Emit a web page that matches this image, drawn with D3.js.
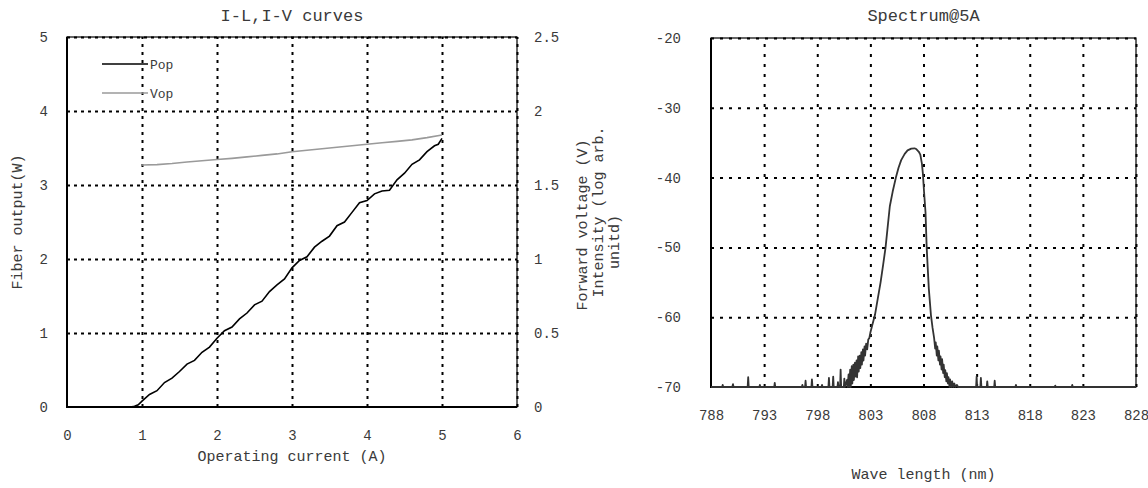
<!DOCTYPE html>
<html>
<head>
<meta charset="utf-8">
<script src="https://cdn.jsdelivr.net/npm/d3@7"></script>
<style>
  body { margin: 0; background: #fff; }
  svg text { font-family: "Liberation Mono", "Courier New", monospace; fill: #3a3a3a; }
  .grid line { stroke: #000; stroke-width: 2; }
  .domain { display: none; }
</style>
</head>
<body>
<div class="charts"></div>
<script>
"use strict"

const FONT = "Liberation Mono, Courier New, monospace";

// ---- I-L / I-V data ----
const popCurrent = [0, 0.5, 0.85, 0.9, 0.95, 1.0, 1.1, 1.2, 1.3, 1.4, 1.5, 1.6, 1.7, 1.8, 1.9, 2.0,
    2.1, 2.2, 2.3, 2.4, 2.5, 2.6, 2.7, 2.8, 2.9, 3.0, 3.1, 3.2, 3.3, 3.4, 3.5, 3.6, 3.7, 3.8, 3.9,
    4.0, 4.1, 4.2, 4.3, 4.4, 4.5, 4.6, 4.7, 4.8, 4.9, 4.95, 5.0];
const popPower = [0, 0, 0, 0.01, 0.03, 0.08, 0.17, 0.22, 0.33, 0.39, 0.48, 0.58, 0.63, 0.74, 0.81, 0.93,
    1.03, 1.08, 1.19, 1.27, 1.38, 1.43, 1.56, 1.65, 1.73, 1.88, 1.98, 2.03, 2.16, 2.24, 2.31, 2.45, 2.50,
    2.63, 2.76, 2.79, 2.88, 2.92, 2.93, 3.07, 3.16, 3.28, 3.34, 3.45, 3.53, 3.55, 3.63];

const vopCurrent = [1.0, 1.2, 1.4, 1.6, 1.8, 2.0, 2.2, 2.4, 2.6, 2.8, 3.0, 3.2, 3.4, 3.6, 3.8, 4.0,
    4.2, 4.4, 4.6, 4.8, 5.0];
const vopVoltage = [1.635, 1.638, 1.645, 1.655, 1.664, 1.672, 1.68, 1.69, 1.70, 1.71, 1.725, 1.735,
    1.745, 1.755, 1.765, 1.775, 1.785, 1.795, 1.805, 1.82, 1.838];

const ilTicksX = [0, 1, 2, 3, 4, 5, 6];
const ilTicksY = [0, 1, 2, 3, 4, 5];
const ivTicksY = [0, 0.5, 1, 1.5, 2, 2.5];
const ivTickLabels = ["0", "0.5", "1", "1.5", "2", "2.5"];

// ---- Spectrum data ----
const specNm = [788.0,
    789.05, 789.1, 789.15, 790.0, 790.07, 790.12, 791.45, 791.5, 791.55, 792.55, 792.6, 792.65,
    793.95, 794.0, 794.05, 796.55, 796.6, 796.65, 796.85, 796.9, 796.95, 797.45, 797.5, 797.55,
    798.4, 798.45, 798.5, 799.05, 799.1, 799.15, 799.45, 799.5, 799.55, 799.9, 799.95, 800.0,
    800.15, 800.2, 800.25, 800.5, 800.55, 800.6, 800.8, 800.85, 800.95, 801.0,
    801.1, 801.15, 801.25, 801.3, 801.4, 801.45, 801.55, 801.6, 801.7, 801.75, 801.85, 801.9,
    802.0, 802.05, 802.15, 802.2, 802.3, 802.35, 802.45, 802.5, 802.6, 802.7, 802.8, 802.9,
    803.0, 803.2, 803.43, 803.7, 803.96, 804.2, 804.43, 804.6, 804.83, 805.1, 805.4, 805.65,
    805.9, 806.23, 806.5, 806.85, 807.16, 807.3, 807.56, 807.7, 807.85, 807.94, 808.05, 808.19,
    808.3, 808.4, 808.5, 808.7, 808.85, 809.0, 809.1, 809.15, 809.25, 809.3, 809.4, 809.45,
    809.55, 809.6, 809.7, 809.75, 809.85, 809.9, 810.0, 810.05, 810.15, 810.2, 810.3, 810.35,
    810.45, 810.5, 810.6, 810.7, 810.8, 810.9, 811.0, 811.15, 811.25,
    812.95, 813.0, 813.05, 813.35, 813.4, 813.45, 813.95, 814.0, 814.05, 814.65, 814.7, 814.75,
    816.65, 816.7, 816.75, 820.35, 820.4, 820.45, 821.95, 822.0, 822.05, 828.0];
const specDb = [-70,
    -70, -69.7, -70, -70, -69.6, -70, -70, -68.6, -70, -70, -69.7, -70,
    -70, -69.4, -70, -70, -69.7, -70, -70, -69.1, -70, -70, -68.9, -70,
    -70, -69.7, -70, -70, -68.7, -70, -70, -68.5, -70, -70, -69.3, -70,
    -70, -67.5, -70, -70, -68.8, -70, -69, -70, -68.2, -70,
    -67.5, -70, -67.0, -69.5, -66.8, -69, -66.5, -68.5, -66.2, -68.6, -65.6, -67.8,
    -65.5, -67.3, -65.0, -66.8, -64.6, -66.2, -64.2, -65.5, -63.8, -64.6, -63.2, -63.0,
    -62.2, -61.0, -59.7, -57.3, -55.0, -52.5, -50.0, -47.5, -44.1, -42.0, -40.0, -38.6,
    -37.5, -36.6, -36.1, -35.85, -35.8, -35.9, -36.3, -36.7, -38.0, -39.4, -42.0, -45.0,
    -50.0, -53.0, -55.9, -59.7, -61.5, -63.0, -64.5, -63.6, -65.5, -64.2, -66.2, -64.8,
    -66.8, -65.6, -67.5, -66.0, -68.0, -66.8, -68.6, -67.6, -69.2, -68.0, -69.5, -68.6,
    -70, -68.9, -70, -69.2, -70, -69.5, -70, -69.7, -70,
    -70, -68.5, -70, -70, -68.7, -70, -70, -69.2, -70, -70, -69.1, -70,
    -70, -69.7, -70, -70, -69.8, -70, -70, -69.7, -70, -70];

const specTicksX = [788, 793, 798, 803, 808, 813, 818, 823, 828];
const specTicksY = [-70, -60, -50, -40, -30, -20];

const width = 1148,
    height = 488;

const svg = d3.select("div.charts").append("svg")
    .attr("width", width)
    .attr("height", height)
    .attr("font-family", FONT);

// ================= left chart: I-L, I-V =================
const il = {left: 67, right: 517, top: 37, bottom: 407};

const scaleI = d3.scaleLinear().domain([0, 6]).range([il.left, il.right]);
const scaleP = d3.scaleLinear().domain([0, 5]).range([il.bottom, il.top]);
const scaleV = d3.scaleLinear().domain([0, 2.5]).range([il.bottom, il.top]);

// grid (dotted)
svg.append("g")
    .attr("class", "grid")
    .attr("transform", "translate(0," + il.bottom + ")")
    .call(d3.axisBottom(scaleI).tickValues(ilTicksX.slice(1)).tickSize(il.top - il.bottom).tickFormat(""))
    .selectAll("line").attr("stroke-dasharray", "3,5");
svg.append("g")
    .attr("class", "grid")
    .attr("transform", "translate(" + il.left + ",0)")
    .call(d3.axisLeft(scaleP).tickValues(ilTicksY.slice(1)).tickSize(il.left - il.right).tickFormat(""))
    .selectAll("line").attr("stroke-dasharray", "3,4");

// frame
svg.append("rect")
    .attr("x", il.left).attr("y", il.top)
    .attr("width", il.right - il.left).attr("height", il.bottom - il.top)
    .attr("fill", "none").attr("stroke", "#000").attr("stroke-width", 1.2);
svg.append("path")
    .attr("d", "M" + il.left + "," + il.top + "V" + il.bottom + "H" + il.right)
    .attr("fill", "none").attr("stroke", "#000").attr("stroke-width", 2);

// axes labels
svg.append("g")
    .attr("class", "axis")
    .attr("transform", "translate(0," + il.bottom + ")")
    .call(d3.axisBottom(scaleI).tickValues(ilTicksX).tickSize(0).tickPadding(23).tickFormat(d3.format("d")));
svg.append("g")
    .attr("class", "axis")
    .attr("transform", "translate(" + il.left + ",0)")
    .call(d3.axisLeft(scaleP).tickValues(ilTicksY).tickSize(0).tickPadding(19).tickFormat(d3.format("d")));
svg.append("g")
    .attr("class", "axis")
    .attr("transform", "translate(" + il.right + ",0)")
    .call(d3.axisRight(scaleV).tickValues(ivTicksY).tickSize(0).tickPadding(17)
        .tickFormat((d, i) => ivTickLabels[i]));

// curves
const vopLine = d3.line()
    .x((d, i) => scaleI(vopCurrent[i]))
    .y(d => scaleV(d));
svg.append("path")
    .attr("d", vopLine(vopVoltage))
    .attr("fill", "none").attr("stroke", "#9a9a9a").attr("stroke-width", 1.6);

const popLine = d3.line()
    .x((d, i) => scaleI(popCurrent[i]))
    .y(d => scaleP(d));
svg.append("path")
    .attr("d", popLine(popPower))
    .attr("fill", "none").attr("stroke", "#000").attr("stroke-width", 1.6);

// legend
const legend = svg.append("g").attr("transform", "translate(102,64)");
legend.append("line").attr("x1", 0).attr("x2", 46).attr("stroke", "#000").attr("stroke-width", 1.6);
legend.append("text").attr("x", 48).attr("dy", "0.35em").attr("font-size", 13).text("Pop");
legend.append("line").attr("x1", 0).attr("x2", 46).attr("y1", 29).attr("y2", 29)
    .attr("stroke", "#9a9a9a").attr("stroke-width", 1.6);
legend.append("text").attr("x", 48).attr("y", 29).attr("dy", "0.35em").attr("font-size", 13).text("Vop");

// titles
svg.append("text").attr("x", (il.left + il.right) / 2).attr("y", 15).attr("dy", "0.35em")
    .attr("text-anchor", "middle").attr("font-size", 17).text("I-L,I-V curves");
svg.append("text").attr("x", (il.left + il.right) / 2).attr("y", 456).attr("dy", "0.35em")
    .attr("text-anchor", "middle").attr("font-size", 15).text("Operating current (A)");
svg.append("text").attr("transform", "translate(17,222) rotate(-90)").attr("dy", "0.35em")
    .attr("text-anchor", "middle").attr("font-size", 15).text("Fiber output(W)");
svg.append("text").attr("transform", "translate(582,225) rotate(-90)").attr("dy", "0.35em")
    .attr("text-anchor", "middle").attr("font-size", 15).text("Forward voltage (V)");

// ================= right chart: spectrum =================
const sp = {left: 711, right: 1136, top: 38, bottom: 387};

const scaleNm = d3.scaleLinear().domain([788, 828]).range([sp.left, sp.right]);
const scaleDb = d3.scaleLinear().domain([-70, -20]).range([sp.bottom, sp.top]);

svg.append("g")
    .attr("class", "grid")
    .attr("transform", "translate(0," + sp.bottom + ")")
    .call(d3.axisBottom(scaleNm).tickValues(specTicksX.slice(1)).tickSize(sp.top - sp.bottom).tickFormat(""))
    .selectAll("line").attr("stroke-dasharray", "3,7");
svg.append("g")
    .attr("class", "grid")
    .attr("transform", "translate(" + sp.left + ",0)")
    .call(d3.axisLeft(scaleDb).tickValues(specTicksY.slice(1)).tickSize(sp.left - sp.right).tickFormat(""))
    .selectAll("line").attr("stroke-dasharray", "3,6");

svg.append("rect")
    .attr("x", sp.left).attr("y", sp.top)
    .attr("width", sp.right - sp.left).attr("height", sp.bottom - sp.top)
    .attr("fill", "none").attr("stroke", "#000").attr("stroke-width", 1.2);
svg.append("path")
    .attr("d", "M" + sp.left + "," + sp.top + "V" + sp.bottom + "H" + sp.right)
    .attr("fill", "none").attr("stroke", "#000").attr("stroke-width", 2);

svg.append("g")
    .attr("class", "axis")
    .attr("transform", "translate(0," + sp.bottom + ")")
    .call(d3.axisBottom(scaleNm).tickValues(specTicksX).tickSize(0).tickPadding(23).tickFormat(d3.format("d")));
svg.append("g")
    .attr("class", "axis")
    .attr("transform", "translate(" + sp.left + ",0)")
    .call(d3.axisLeft(scaleDb).tickValues(specTicksY).tickSize(0).tickPadding(30)
        .tickFormat(d => String(d)));

const specLine = d3.line()
    .x((d, i) => scaleNm(specNm[i]))
    .y(d => scaleDb(d));
svg.append("path")
    .attr("d", specLine(specDb))
    .attr("fill", "none").attr("stroke", "#333").attr("stroke-width", 1.8)
    .attr("stroke-linejoin", "round");

svg.append("text").attr("x", (sp.left + sp.right) / 2).attr("y", 15).attr("dy", "0.35em")
    .attr("text-anchor", "middle").attr("font-size", 17).text("Spectrum@5A");
svg.append("text").attr("x", (sp.left + sp.right) / 2).attr("y", 474).attr("dy", "0.35em")
    .attr("text-anchor", "middle").attr("font-size", 15).text("Wave length (nm)");
svg.append("text").attr("transform", "translate(598,212) rotate(-90)").attr("dy", "0.35em")
    .attr("text-anchor", "middle").attr("font-size", 15).text("Intensity (log arb.");
svg.append("text").attr("transform", "translate(614,242) rotate(-90)").attr("dy", "0.35em")
    .attr("text-anchor", "middle").attr("font-size", 15).text("unitd)");

// axis groups: same monospace font as the rest, a little larger than d3's default
svg.selectAll("g.axis").attr("font-family", FONT).attr("font-size", 14);
svg.selectAll("g.axis .tick text").attr("fill", "#444");
</script>
</body>
</html>
